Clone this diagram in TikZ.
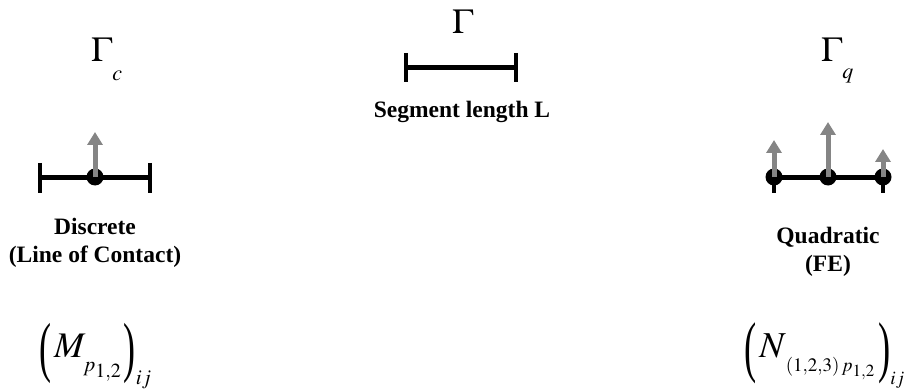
\documentclass[tikz,border=0pt]{standalone}
\usepackage{mathptmx}
\usepackage{graphicx}
\usepackage{fontspec}
\setmainfont{Liberation Serif}
\DeclareMathSizes{35}{35}{22}{18}
\DeclareMathSizes{36}{36}{21}{20}
\DeclareMathSizes{36.5}{36.5}{19}{17}
\usetikzlibrary{arrows.meta}
\definecolor{loadgray}{HTML}{858585}
\tikzset{
  seg/.style={line width=5pt},
  endtick/.style={line width=4.5pt},
  nodedot/.style={circle,fill=black,inner sep=0pt,minimum size=17pt},
  load/.style={draw=loadgray,line width=5pt,-{Triangle[width=15pt,length=13pt]}},
  caption/.style={font=\fontsize{23.5}{28}\selectfont\bfseries,align=center},
  gam/.style={font=\fontsize{35}{40}\selectfont,inner sep=0pt,anchor=base west},
  formula/.style={inner sep=0pt,anchor=base west},
}
\newcommand{\lowsub}[2]{\lower#1\hbox{$\scriptstyle #2$}}
\newcommand{\tallparen}[1]{\raisebox{-12.5pt}{\scalebox{1}[1.85]{#1}}}
\begin{document}
\begin{tikzpicture}[x=1pt,y=-1pt]
\useasboundingbox (0,0) rectangle (909,390);
% discrete (line of contact)
\node[gam] (gc) at (91,62) {$\Gamma_{\lowsub{13pt}{c}}$};
\coordinate (cl) at (40,177);
\coordinate (cr) at (150,177);
\draw[seg] (cl) -- (cr);
\draw[endtick] ([yshift=14pt]cl) -- ([yshift=-16pt]cl);
\draw[endtick] ([yshift=14pt]cr) -- ([yshift=-16pt]cr);
\node[nodedot] (c1) at (95,177) {};
\draw[load] (c1.center) -- ++(0,-45);
\node[caption] (dis) at (95,243) {Discrete\\(Line of Contact)};
\node[formula,font=\fontsize{36}{42}\selectfont] (mm) at (39,357)
  {$\tallparen{(}\kern3pt M_{\lowsub{9pt}{p_{1,2}}}\kern2pt\tallparen{)}_{ij}$};
% segment
\node[gam] (g) at (452,34) {$\Gamma$};
\coordinate (sl) at (406,68);
\coordinate (sr) at (516,68);
\draw[seg] (sl) -- (sr);
\draw[endtick] ([yshift=15pt]sl) -- ([yshift=-14pt]sl);
\draw[endtick] ([yshift=15pt]sr) -- ([yshift=-14pt]sr);
\node[caption] (len) at (462,112) {Segment length L};
% quadratic (FE)
\node[gam] (gq) at (821,62) {$\Gamma_{\lowsub{11pt}{q}}$};
\coordinate (ql) at (774,177);
\coordinate (qr) at (883,177);
\draw[seg] (ql) -- (qr);
\draw[endtick] (ql) -- ([yshift=-16pt]ql);
\draw[endtick] (qr) -- ([yshift=-16pt]qr);
\node[nodedot] (q1) at (ql) {};
\node[nodedot] (q2) at (828,177) {};
\node[nodedot] (q3) at (qr) {};
\draw[load] (q1.center) -- ++(0,-37);
\draw[load] (q2.center) -- ++(0,-55);
\draw[load] (q3.center) -- ++(0,-28);
\node[caption] (quad) at (828,252) {Quadratic\\(FE)};
\node[formula,font=\fontsize{36.5}{42}\selectfont] (nn) at (744,357)
  {$\tallparen{(}\kern3pt N_{\lowsub{9pt}{\kern3pt(1,2,3)\,p_{1,2}}}\kern3pt\tallparen{)}_{ij}$};
\end{tikzpicture}
\end{document}
